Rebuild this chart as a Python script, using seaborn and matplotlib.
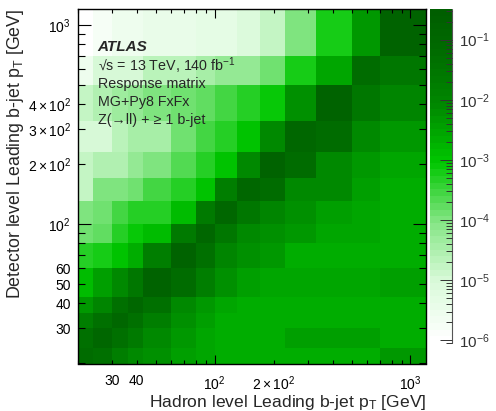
import numpy as np
import pandas as pd
import matplotlib
matplotlib.use('Agg')
import matplotlib.pyplot as plt
import seaborn as sns
from matplotlib.colors import LogNorm, LinearSegmentedColormap
from matplotlib.ticker import LogLocator, FuncFormatter, NullFormatter

sns.set_style('ticks')
plt.rcParams['font.family'] = ['Liberation Sans', 'DejaVu Sans']
plt.rcParams['mathtext.fontset'] = 'custom'
plt.rcParams['mathtext.rm'] = 'Liberation Sans'
plt.rcParams['mathtext.it'] = 'Liberation Sans:italic'
plt.rcParams['mathtext.bf'] = 'Liberation Sans:bold'

# bin edges in GeV, same binning at hadron and detector level
pt_edges = [20, 24, 30, 36, 43, 60, 80, 100, 130, 170, 230, 330, 500, 700, 1200]

# response matrix, rows = detector level bins from top (700-1200) to bottom (20-24),
# columns = hadron level bins from 20-24 to 700-1200
resp = [
    [1.1e-6, 1.9e-6, 2.7e-6, 2.7e-6, 3.7e-6, 3.7e-6, 5.1e-6, 5.1e-6, 7.2e-6, 1.5e-5, 1.0e-4, 5.9e-4, 4.2e-3, 0.18],
    [2.7e-6, 1.0e-5, 1.0e-5, 1.15e-5, 2.0e-5, 2.0e-5, 3.4e-5, 5.8e-5, 5.8e-5, 1.4e-4, 5.9e-4, 2.9e-3, 6.8e-2, 3.2e-2],
    [1.5e-5, 2.6e-5, 4.5e-5, 5.8e-5, 1.0e-4, 1.2e-4, 1.7e-4, 2.9e-4, 4.2e-4, 7.6e-4, 5.9e-3, 0.16, 3.2e-2, 1.0e-2],
    [1.15e-5, 1.15e-5, 2.0e-5, 3.9e-5, 3.9e-5, 1.4e-4, 2.6e-4, 4.9e-4, 1.0e-3, 8.3e-3, 0.10, 6.8e-2, 8.3e-3, 4.2e-3],
    [1.5e-5, 3.0e-5, 3.0e-5, 5.8e-5, 1.0e-4, 2.4e-4, 4.9e-4, 1.0e-3, 8.3e-3, 0.16, 6.8e-2, 8.3e-3, 4.2e-3, 2.9e-3],
    [1.5e-5, 1.0e-4, 1.0e-4, 1.4e-4, 2.6e-4, 4.9e-4, 1.0e-3, 1.5e-2, 0.10, 6.8e-2, 8.3e-3, 7.1e-3, 3.5e-3, 2.4e-3],
    [1.0e-4, 1.4e-4, 2.6e-4, 4.2e-4, 4.9e-4, 1.2e-3, 2.1e-2, 0.10, 3.2e-2, 1.0e-2, 5.9e-3, 3.5e-3, 2.9e-3, 2.2e-3],
    [1.4e-4, 1.7e-4, 4.9e-4, 7.1e-4, 1.2e-3, 2.1e-2, 0.10, 3.2e-2, 8.3e-3, 5.9e-3, 4.2e-3, 2.9e-3, 2.7e-3, 2.2e-3],
    [4.9e-4, 5.9e-4, 1.0e-3, 2.0e-3, 1.5e-2, 0.16, 4.7e-2, 1.0e-2, 5.9e-3, 4.2e-3, 2.4e-3, 2.4e-3, 2.4e-3, 2.2e-3],
    [1.2e-3, 3.5e-3, 8.3e-3, 3.2e-2, 0.16, 6.8e-2, 1.5e-2, 5.9e-3, 3.5e-3, 2.9e-3, 2.9e-3, 2.9e-3, 2.9e-3, 3.5e-3],
    [4.9e-3, 1.0e-2, 4.7e-2, 0.10, 4.7e-2, 8.3e-3, 4.9e-3, 2.9e-3, 2.2e-3, 2.2e-3, 2.2e-3, 2.2e-3, 2.4e-3, 2.2e-3],
    [1.5e-2, 4.7e-2, 0.10, 4.7e-2, 1.5e-2, 5.9e-3, 3.5e-3, 2.4e-3, 2.2e-3, 2.2e-3, 2.2e-3, 2.2e-3, 2.2e-3, 2.2e-3],
    [4.7e-2, 0.10, 4.7e-2, 2.1e-2, 8.3e-3, 4.2e-3, 2.9e-3, 2.4e-3, 2.4e-3, 2.4e-3, 3.5e-3, 3.5e-3, 3.5e-3, 2.0e-3],
    [6.8e-2, 4.7e-2, 1.5e-2, 8.3e-3, 5.9e-3, 3.5e-3, 2.9e-3, 2.4e-3, 2.2e-3, 2.2e-3, 2.2e-3, 2.2e-3, 2.2e-3, 4.2e-3],
]

z_min, z_max = 9e-7, 0.32

# colour scale: white -> bright green -> dark green, in discrete bands
green_cmap = LinearSegmentedColormap.from_list('atlas_green', [
    (0.00, (1.00, 1.00, 1.00)),
    (0.18, (0.85, 0.98, 0.85)),
    (0.36, (0.52, 0.90, 0.52)),
    (0.54, (0.00, 0.78, 0.00)),
    (0.72, (0.00, 0.53, 0.00)),
    (0.90, (0.00, 0.41, 0.00)),
    (1.00, (0.00, 0.37, 0.00)),
], N=50)

# long form table, one entry per cell at the bin centre
lo = np.array(pt_edges[:-1], dtype=float)
hi = np.array(pt_edges[1:], dtype=float)
centres = np.sqrt(lo * hi)
recs = []
for i, row in enumerate(resp):
    for j, v in enumerate(row):
        recs.append((centres[j], centres[::-1][i], v))
df = pd.DataFrame(recs, columns=['hadron', 'detector', 'frac'])

fig = plt.figure(figsize=(4.96, 4.11), dpi=100)
ax = fig.add_axes([77.7 / 496, 1 - 363.5 / 411, (426 - 77.7) / 496, (363.5 - 9) / 411])
cax = fig.add_axes([429.5 / 496, 1 - 343 / 411, 22.5 / 496, (343 - 9.3) / 411])

sns.histplot(data=df, x='hadron', y='detector', weights='frac',
             bins=list(np.log10(pt_edges)), log_scale=True, cmap=green_cmap,
             cbar=False, ax=ax)
mesh = ax.collections[0]
mesh.set_norm(LogNorm(vmin=z_min, vmax=z_max))
ax.set_axisbelow(False)

ax.set_xlim(20, 1200)
ax.set_ylim(20, 1200)

x_minor_labels = {30: '30', 40: '40', 200: r'$2\times10^{2}$'}
y_minor_labels = {30: '30', 40: '40', 50: '50', 60: '60',
                  200: r'$2\times10^{2}$', 300: r'$3\times10^{2}$', 400: r'$4\times10^{2}$'}

def major_fmt(v, pos):
    return r'$10^{%d}$' % int(round(np.log10(v)))

def make_minor_fmt(labels):
    def fmt(v, pos):
        return labels.get(int(round(v)), '')
    return fmt

for axis, labels in [(ax.xaxis, x_minor_labels), (ax.yaxis, y_minor_labels)]:
    axis.set_major_locator(LogLocator(base=10, subs=(1.0,)))
    axis.set_minor_locator(LogLocator(base=10, subs=np.arange(2, 10)))
    axis.set_major_formatter(FuncFormatter(major_fmt))
    axis.set_minor_formatter(FuncFormatter(make_minor_fmt(labels)))

ax.tick_params(axis='both', which='both', direction='in', top=True, right=True,
               labelsize=10, width=0.8, colors='black')
ax.tick_params(axis='x', which='major', length=6.5, pad=7.5)
ax.tick_params(axis='x', which='minor', length=3, pad=7.5)
ax.tick_params(axis='y', which='major', length=9.5, pad=5)
ax.tick_params(axis='y', which='minor', length=4.7, pad=5)
for sp in ax.spines.values():
    sp.set_linewidth(1.0)
    sp.set_color('black')

ax.set_xlabel(r'Hadron level Leading b-jet p$_{\mathrm{T}}$ [GeV]', fontsize=12.6, loc='right')
ax.xaxis.set_label_coords(1.0, -0.083)
ax.set_ylabel(r'Detector level Leading b-jet p$_{\mathrm{T}}$ [GeV]', fontsize=12.8, loc='top', labelpad=1)

cb = fig.colorbar(mesh, cax=cax)
cb.outline.set_visible(False)
cax.set_axisbelow(False)
cax.plot([1, 1], [0, 1], transform=cax.transAxes, color='#555555', lw=0.8, clip_on=False)
cax.yaxis.set_major_locator(LogLocator(base=10, subs=(1.0,)))
cax.yaxis.set_minor_locator(LogLocator(base=10, subs=np.arange(2, 10)))
cax.yaxis.set_major_formatter(FuncFormatter(major_fmt))
cax.yaxis.set_minor_formatter(NullFormatter())
cax.tick_params(which='both', direction='in', labelsize=11, width=0.7, colors='#333333', pad=5)
cax.tick_params(which='major', length=9)
cax.tick_params(which='minor', length=4.5)

# ATLAS label block
tx = 97.7 / 496
fig.text(tx, 1 - 46.7 / 411, 'ATLAS', fontsize=11, fontweight='bold', fontstyle='italic', va='center')
fig.text(tx, 1 - 65.5 / 411, '\u221as = 13 TeV, 140 fb$^{-1}$', fontsize=10.3, va='center')
fig.text(tx, 1 - 84 / 411, 'Response matrix', fontsize=10.3, va='center')
fig.text(tx, 1 - 101.7 / 411, 'MG+Py8 FxFx', fontsize=10.3, va='center')
fig.text(tx, 1 - 120 / 411, 'Z(\u2192ll) + \u2265 1 b-jet', fontsize=10.3, va='center')

fig.savefig('out.png', dpi=100)
